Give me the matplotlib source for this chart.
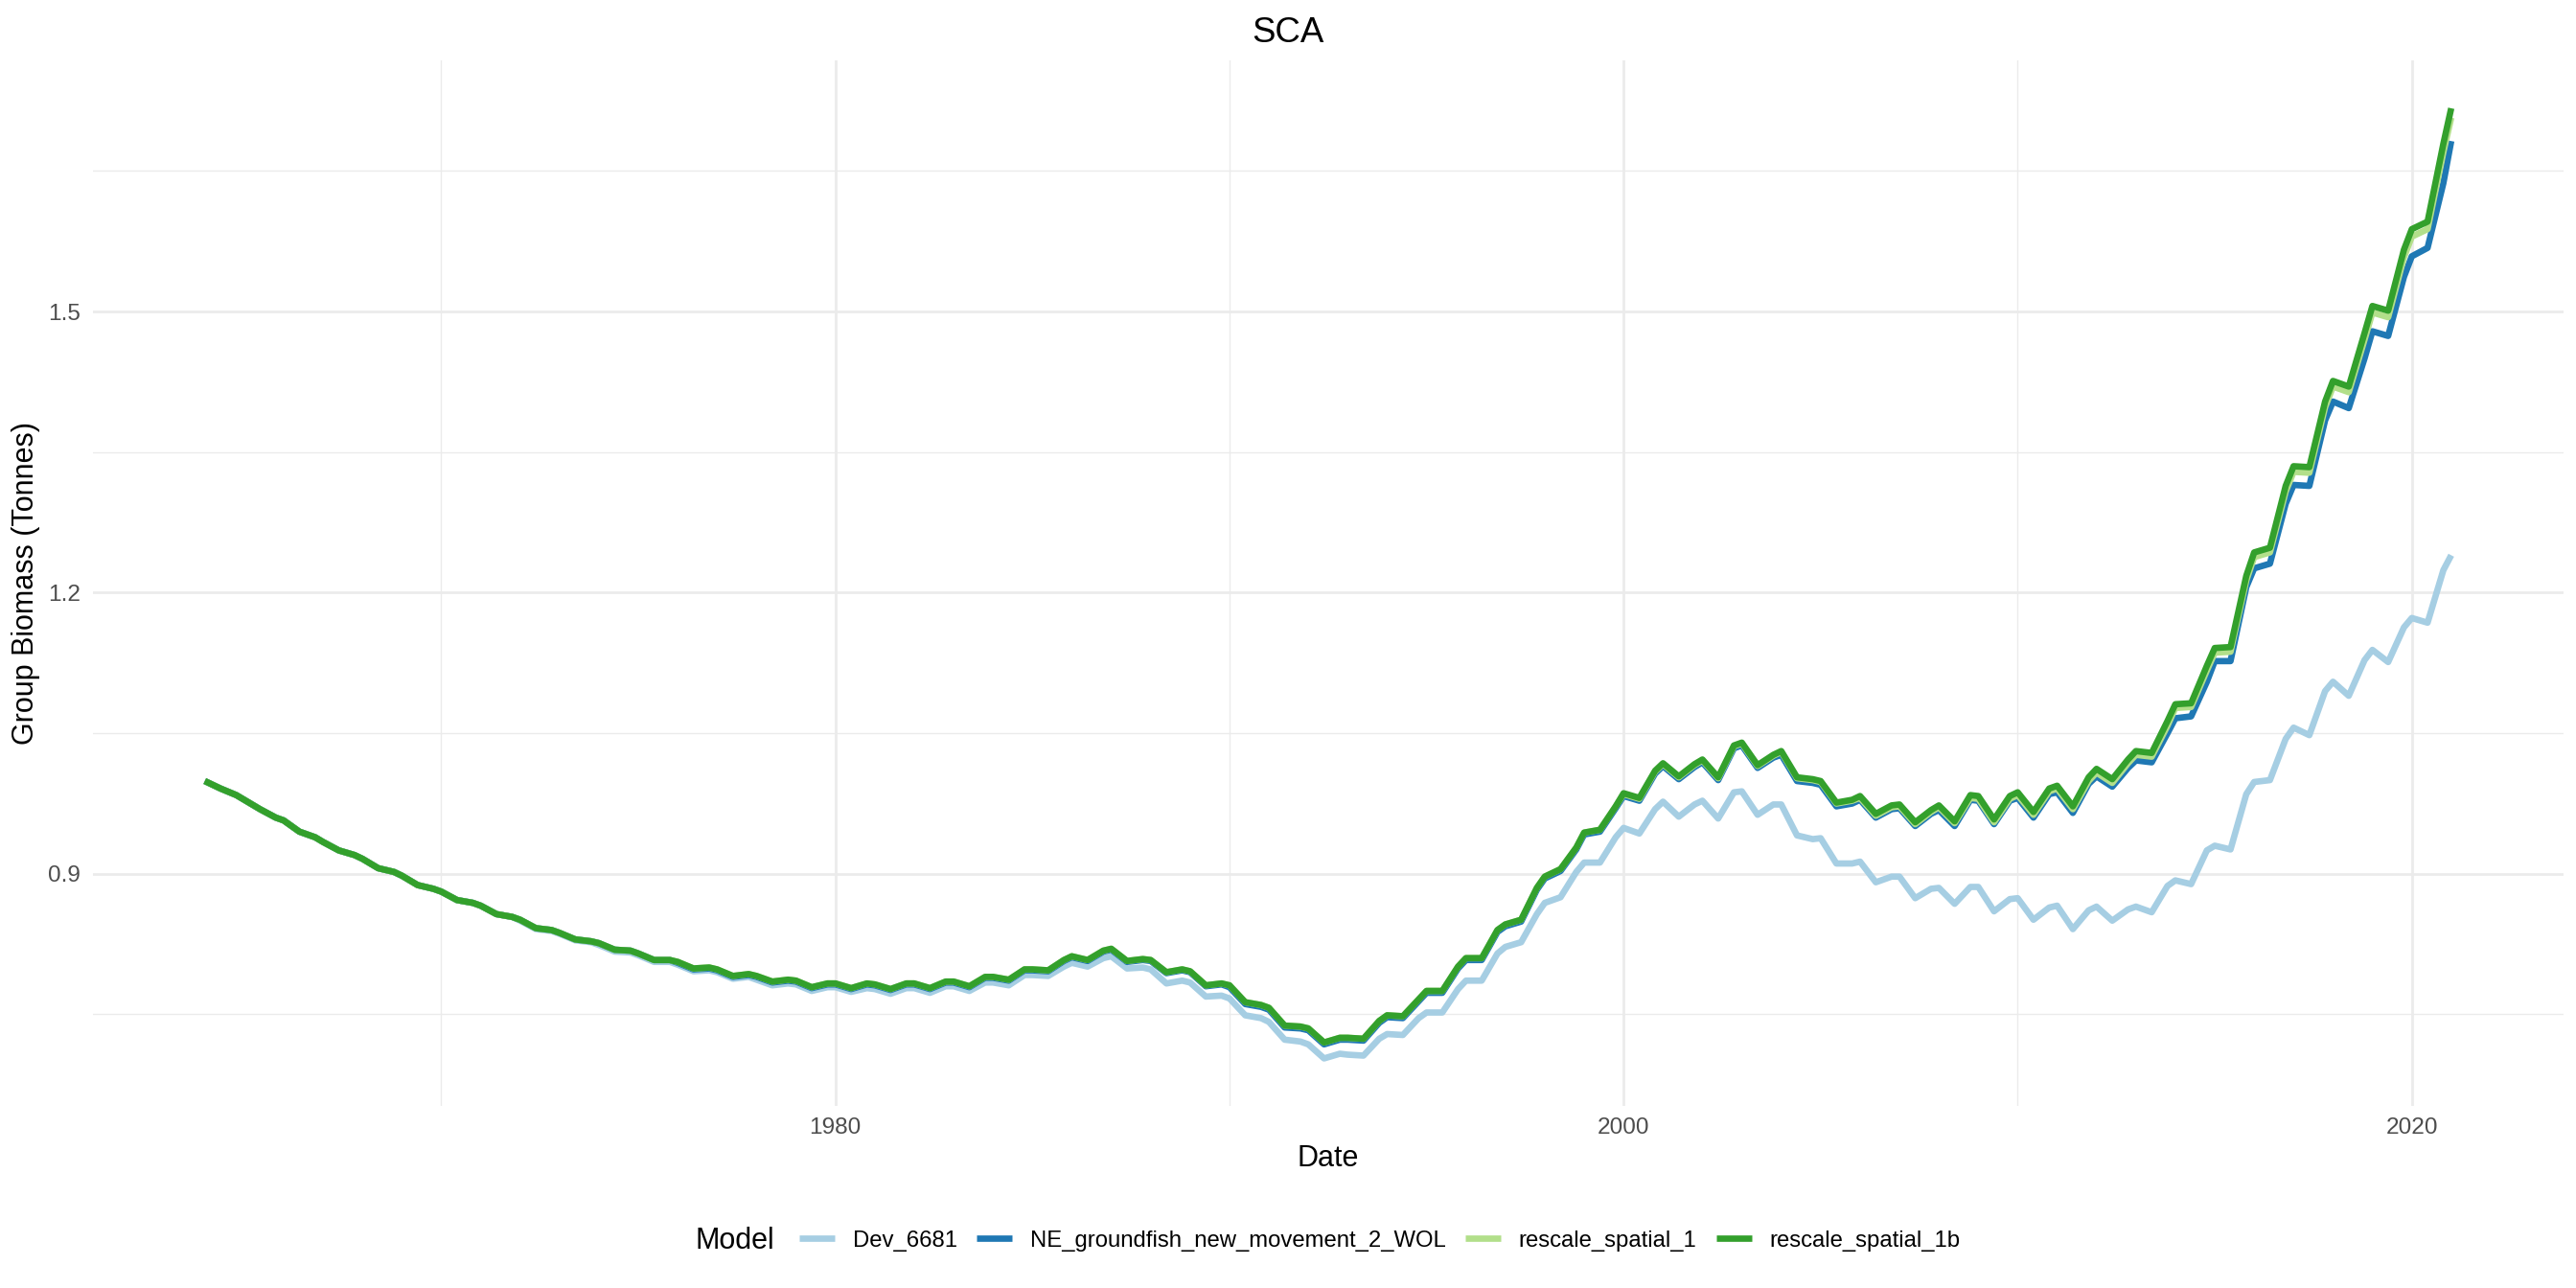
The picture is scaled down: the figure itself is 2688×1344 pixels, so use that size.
import matplotlib
matplotlib.use("Agg")
import matplotlib.pyplot as plt
from matplotlib.lines import Line2D

plt.rcParams['font.family'] = ['Liberation Sans', 'DejaVu Sans']

# ---------------- data ----------------
years = list(range(1964, 2021))
season_offsets = [0.0, 0.4, 0.8]          # sampled output steps within each year
time = [y + f for y in years for f in season_offsets] + [2021.0]

models = ["Dev_6681", "NE_groundfish_new_movement_2_WOL", "rescale_spatial_1", "rescale_spatial_1b"]
colors = ["#A6CEE3", "#1F78B4", "#B2DF8A", "#33A02C"]

rescale_spatial_1b = [
    0.999, 0.991, 0.984,  0.979, 0.969, 0.960,  0.957, 0.945, 0.939,  0.934, 0.925, 0.920,  # 1964-67
    0.916, 0.906, 0.902,  0.898, 0.888, 0.884,  0.881, 0.872, 0.869,  0.866, 0.857, 0.854,  # 1968-71
    0.851, 0.842, 0.840,  0.837, 0.830, 0.828,  0.826, 0.819, 0.818,  0.815, 0.808, 0.808,  # 1972-75
    0.806, 0.799, 0.800,  0.798, 0.791, 0.793,  0.791, 0.785, 0.787,  0.786, 0.779, 0.783,  # 1976-79
    0.783, 0.778, 0.783,  0.782, 0.777, 0.783,  0.783, 0.778, 0.785,  0.785, 0.780, 0.790,  # 1980-83
    0.790, 0.787, 0.798,  0.798, 0.797, 0.808,  0.812, 0.808, 0.818,  0.820, 0.807, 0.809,  # 1984-87
    0.808, 0.795, 0.798,  0.796, 0.781, 0.783,  0.781, 0.763, 0.760,  0.757, 0.738, 0.737,  # 1988-91
    0.735, 0.720, 0.725,  0.725, 0.724, 0.743,  0.749, 0.748, 0.766,  0.775, 0.775, 0.801,  # 1992-95
    0.810, 0.810, 0.840,  0.846, 0.851, 0.885,  0.897, 0.905, 0.928,  0.944, 0.947, 0.972,  # 1996-99
    0.986, 0.981, 1.010,  1.018, 1.004, 1.017,  1.022, 1.003, 1.037,  1.040, 1.016, 1.027,  # 2000-03
    1.031, 1.003, 1.001,  0.999, 0.976, 0.979,  0.983, 0.964, 0.973,  0.974, 0.955, 0.968,  # 2004-07
    0.973, 0.956, 0.984,  0.983, 0.958, 0.983,  0.987, 0.966, 0.991,  0.994, 0.972, 1.003,  # 2008-11
    1.012, 1.001, 1.022,  1.031, 1.029, 1.063,  1.081, 1.082, 1.122,  1.141, 1.142, 1.218,  # 2012-15
    1.243, 1.248, 1.314,  1.335, 1.334, 1.404,  1.426, 1.420, 1.477,  1.506, 1.501, 1.566,  # 2016-19
    1.588, 1.596, 1.679,  1.717,                                                            # 2020-21
]

rescale_spatial_1 = [
    0.999, 0.991, 0.984,  0.979, 0.969, 0.960,  0.957, 0.945, 0.939,  0.934, 0.925, 0.920,
    0.916, 0.906, 0.902,  0.898, 0.888, 0.884,  0.881, 0.872, 0.869,  0.866, 0.857, 0.854,
    0.851, 0.842, 0.840,  0.837, 0.830, 0.828,  0.826, 0.819, 0.818,  0.815, 0.808, 0.808,
    0.806, 0.799, 0.800,  0.798, 0.791, 0.793,  0.791, 0.785, 0.787,  0.786, 0.779, 0.783,
    0.783, 0.778, 0.783,  0.782, 0.777, 0.783,  0.783, 0.778, 0.785,  0.785, 0.780, 0.790,
    0.790, 0.787, 0.798,  0.798, 0.797, 0.808,  0.812, 0.808, 0.818,  0.820, 0.807, 0.809,
    0.808, 0.795, 0.798,  0.796, 0.781, 0.783,  0.781, 0.763, 0.760,  0.757, 0.738, 0.737,
    0.735, 0.720, 0.725,  0.725, 0.724, 0.743,  0.749, 0.748, 0.766,  0.775, 0.775, 0.801,
    0.810, 0.810, 0.840,  0.846, 0.851, 0.885,  0.897, 0.905, 0.928,  0.944, 0.947, 0.972,
    0.985, 0.980, 1.009,  1.017, 1.003, 1.016,  1.021, 1.002, 1.036,  1.039, 1.015, 1.026,
    1.030, 1.002, 1.000,  0.998, 0.975, 0.978,  0.981, 0.962, 0.971,  0.972, 0.953, 0.966,
    0.971, 0.954, 0.981,  0.980, 0.955, 0.980,  0.984, 0.963, 0.988,  0.991, 0.969, 0.999,
    1.008, 0.997, 1.018,  1.027, 1.025, 1.058,  1.077, 1.078, 1.117,  1.136, 1.137, 1.213,
    1.238, 1.243, 1.308,  1.329, 1.328, 1.398,  1.420, 1.414, 1.470,  1.499, 1.494, 1.558,
    1.580, 1.588, 1.670,  1.707,
]

NE_groundfish_new_movement_2_WOL = [
    0.999, 0.991, 0.984,  0.979, 0.969, 0.960,  0.957, 0.945, 0.939,  0.934, 0.925, 0.920,
    0.916, 0.906, 0.902,  0.898, 0.888, 0.884,  0.881, 0.872, 0.869,  0.866, 0.857, 0.854,
    0.851, 0.842, 0.840,  0.837, 0.830, 0.828,  0.826, 0.819, 0.818,  0.815, 0.808, 0.808,
    0.805, 0.798, 0.799,  0.797, 0.790, 0.792,  0.790, 0.784, 0.786,  0.785, 0.778, 0.782,
    0.782, 0.777, 0.782,  0.781, 0.776, 0.782,  0.782, 0.777, 0.784,  0.784, 0.779, 0.789,
    0.789, 0.786, 0.797,  0.797, 0.796, 0.807,  0.811, 0.807, 0.817,  0.819, 0.806, 0.808,
    0.807, 0.794, 0.797,  0.795, 0.780, 0.782,  0.779, 0.761, 0.758,  0.755, 0.736, 0.735,
    0.733, 0.718, 0.723,  0.723, 0.722, 0.741,  0.747, 0.746, 0.764,  0.773, 0.773, 0.799,
    0.808, 0.808, 0.838,  0.844, 0.849, 0.883,  0.895, 0.903, 0.926,  0.942, 0.945, 0.970,
    0.983, 0.978, 1.007,  1.015, 1.001, 1.014,  1.019, 1.000, 1.034,  1.037, 1.013, 1.024,
    1.027, 0.999, 0.997,  0.995, 0.972, 0.975,  0.979, 0.960, 0.969,  0.970, 0.951, 0.964,
    0.968, 0.951, 0.979,  0.978, 0.953, 0.978,  0.981, 0.960, 0.985,  0.987, 0.965, 0.996,
    1.004, 0.993, 1.013,  1.021, 1.019, 1.050,  1.066, 1.068, 1.105,  1.127, 1.127, 1.206,
    1.226, 1.231, 1.295,  1.315, 1.314, 1.384,  1.404, 1.397, 1.450,  1.479, 1.474, 1.537,
    1.559, 1.568, 1.637,  1.682,
]

Dev_6681 = [
    0.999, 0.991, 0.984,  0.979, 0.969, 0.960,  0.957, 0.945, 0.939,  0.934, 0.925, 0.920,
    0.916, 0.906, 0.902,  0.898, 0.888, 0.884,  0.881, 0.872, 0.869,  0.866, 0.857, 0.854,
    0.850, 0.841, 0.839,  0.836, 0.829, 0.827,  0.824, 0.817, 0.816,  0.813, 0.806, 0.806,
    0.803, 0.796, 0.797,  0.795, 0.788, 0.790,  0.787, 0.781, 0.783,  0.782, 0.775, 0.779,
    0.779, 0.774, 0.778,  0.777, 0.772, 0.778,  0.778, 0.773, 0.780,  0.780, 0.775, 0.784,
    0.784, 0.781, 0.792,  0.792, 0.791, 0.801,  0.805, 0.801, 0.810,  0.812, 0.799, 0.800,
    0.798, 0.783, 0.786,  0.784, 0.769, 0.770,  0.767, 0.749, 0.746,  0.742, 0.723, 0.721,
    0.718, 0.703, 0.708,  0.707, 0.706, 0.724,  0.729, 0.728, 0.746,  0.752, 0.752, 0.777,
    0.786, 0.786, 0.815,  0.822, 0.827, 0.857,  0.869, 0.875, 0.902,  0.912, 0.912, 0.939,
    0.949, 0.943, 0.969,  0.977, 0.961, 0.974,  0.978, 0.959, 0.987,  0.988, 0.963, 0.974,
    0.974, 0.941, 0.937,  0.938, 0.911, 0.911,  0.913, 0.891, 0.897,  0.897, 0.874, 0.884,
    0.885, 0.868, 0.886,  0.886, 0.860, 0.873,  0.874, 0.851, 0.864,  0.866, 0.841, 0.861,
    0.865, 0.850, 0.862,  0.865, 0.859, 0.887,  0.893, 0.889, 0.925,  0.930, 0.926, 0.985,
    0.998, 1.000, 1.044,  1.056, 1.048, 1.095,  1.105, 1.090, 1.128,  1.139, 1.126, 1.163,
    1.173, 1.168, 1.224,  1.240,
]

series = [Dev_6681, NE_groundfish_new_movement_2_WOL, rescale_spatial_1, rescale_spatial_1b]

x_major = [1980, 2000, 2020]
x_minor = [1970, 1990, 2010]
y_major = [0.9, 1.2, 1.5]
y_minor = [0.75, 1.05, 1.35, 1.65]

# ---------------- figure ----------------
W, H = 2688, 1344
fig = plt.figure(figsize=(W / 200, H / 200), dpi=200, facecolor="white")
pl, pr, pt, pb = 96.5, 2675, 63.4, 1154
ax = fig.add_axes([pl / W, 1 - pb / H, (pr - pl) / W, (pb - pt) / H])
ax.set_facecolor("white")

LW = 2.4
for vals, c in zip(series, colors):
    ax.plot(time, vals, color=c, lw=LW, solid_joinstyle="round", solid_capstyle="butt", zorder=3)

ax.margins(x=0.05, y=0.05)

ax.set_xticks(x_major)
ax.set_xticklabels([str(v) for v in x_major])
ax.set_xticks(x_minor, minor=True)
ax.set_yticks(y_major)
ax.set_yticklabels([f"{v:.1f}" for v in y_major])
ax.set_yticks(y_minor, minor=True)

ax.grid(which="major", color="#EBEBEB", lw=1.0, zorder=0)
ax.grid(which="minor", color="#EBEBEB", lw=0.5, zorder=0)
ax.set_axisbelow(True)
for s in ax.spines.values():
    s.set_visible(False)
ax.tick_params(which="both", length=0, labelsize=8.8, labelcolor="#4D4D4D", pad=4.4)

fig.text(1344 / W, 1 - 34 / H, "SCA", ha="center", va="center", fontsize=13.2, color="black")
fig.text((pl + pr) / 2 / W, 1 - 1209 / H, "Date", ha="center", va="center", fontsize=11, color="black")
fig.text(27 / W, 1 - (pt + pb) / 2 / H, "Group Biomass (Tonnes)", ha="center", va="center",
         rotation=90, fontsize=11, color="black")

handles = [Line2D([], [], color=c, lw=LW, solid_capstyle="butt") for c in colors]
fig.legend(handles, models, loc="center", bbox_to_anchor=(1440 / W, 1 - 1294.6 / H), ncol=4,
           frameon=False, fontsize=8.6, handlelength=1.55, handletextpad=0.78, columnspacing=0.86,
           borderpad=0, borderaxespad=0)
fig.text(808 / W, 1 - 1294.6 / H, "Model", ha="right", va="center", fontsize=11, color="black")

fig.savefig("out.png", dpi=200, facecolor="white")
